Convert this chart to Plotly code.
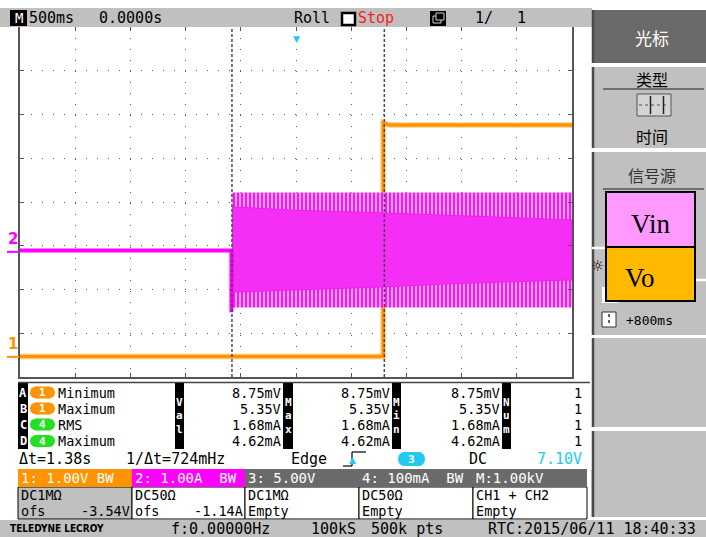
import plotly.graph_objects as go

# ---------------- scope settings ----------------
time_div = 0.5                    # s/div (500 ms)
n_hdiv, n_vdiv = 10, 8
ch1_scale, ch1_ofs = 1.00, -3.54  # V/div, offset V
ch2_scale, ch2_ofs = 1.00, -1.14  # A/div, offset A

# ---------------- waveforms ----------------
# CH1 (Vo): output steps up at the second cursor
ch1_t = [-2.5, 0.79, 0.79, 0.84, 2.5]
ch1_v = [0.00875, 0.00875, 5.35, 5.30, 5.30]

# CH2 (Vin): idle, then switching starts at the first cursor
ch2_idle_t = [-2.5, -0.585, -0.585, -0.58]
ch2_idle_i = [0.03, 0.03, -1.38, 0.03]

# CH2 envelope while switching
env_t = [-0.58, 0.0, 0.8, 1.4, 2.0, 2.5]
outer_hi = [1.36, 1.36, 1.36, 1.36, 1.36, 1.36]
outer_lo = [-1.27, -1.27, -1.27, -1.27, -1.27, -1.27]
inner_hi = [1.03, 0.95, 0.89, 0.84, 0.78, 0.73]
inner_lo = [-0.92, -0.86, -0.80, -0.73, -0.68, -0.64]

cursor_t = [-0.58, 0.80]

# ---------------- readouts ----------------
meas_letters = ["A", "B", "C", "D"]
meas_src = ["1", "1", "4", "4"]
meas_names = ["Minimum", "Maximum", "RMS", "Maximum"]
meas_val = ["8.75mV", "5.35V", "1.68mA", "4.62mA"]
meas_max = ["8.75mV", "5.35V", "1.68mA", "4.62mA"]
meas_min = ["8.75mV", "5.35V", "1.68mA", "4.62mA"]
meas_num = ["1", "1", "1", "1"]

ch_heads = ["1: 1.00V BW", "2: 1.00A  BW", "3: 5.00V", "4: 100mA  BW", "M:1.00kV"]
ch_line2 = ["DC1MΩ", "DC50Ω", "DC1MΩ", "DC50Ω", "CH1 + CH2"]
ch_line3 = ["ofs", "ofs", "Empty", "Empty", "Empty"]
ch_line3r = ["-3.54V", "-1.14A", "", "", ""]

ORANGE = "#ff9400"
MAGENTA = "#ff00ff"
GRAY = "#c0c0c0"
DGRAY = "#6a6a6a"
CYAN = "#22cbee"
GREEN = "#22e022"
MONO = "DejaVu Sans Mono"
CJK = "Noto Sans CJK SC"
SERIF = "Liberation Serif"
ROW_FS = 13.5   # readout rows are packed 16 px apart

# plot area in pixels
L, R, T, B = 20, 572, 27, 377
W, H = R - L, B - T


def fx(x):
    return (x - L) / W


def fy(y):
    return (B - y) / H


shapes, annots = [], []


def rect(x0, y0, x1, y1, fill, line=None, lw=0):
    shapes.append(dict(type="rect", xref="paper", yref="paper",
                       x0=fx(x0), x1=fx(x1), y0=fy(y1), y1=fy(y0),
                       fillcolor=fill, line=dict(color=line or fill, width=lw)))


def circ(x0, y0, x1, y1, fill):
    shapes.append(dict(type="circle", xref="paper", yref="paper",
                       x0=fx(x0), x1=fx(x1), y0=fy(y1), y1=fy(y0),
                       fillcolor=fill, line=dict(color=fill, width=0)))


def seg(x0, y0, x1, y1, color, lw=1, dash="solid"):
    shapes.append(dict(type="line", xref="paper", yref="paper",
                       x0=fx(x0), x1=fx(x1), y0=fy(y0), y1=fy(y1),
                       line=dict(color=color, width=lw, dash=dash)))


def text(x, y, s, size=15, color="black", anchor="left", family=MONO):
    annots.append(dict(xref="paper", yref="paper", x=fx(x), y=fy(y), text=s,
                       showarrow=False, xanchor=anchor, yanchor="middle",
                       borderpad=0, font=dict(family=family, size=size, color=color)))


# ---------------- traces ----------------
fig = go.Figure()
fig.add_trace(go.Scatter(
    x=env_t + env_t[::-1], y=outer_hi + outer_lo[::-1], yaxis="y2",
    mode="lines", fill="toself", line=dict(width=0), fillcolor="#ffa8ff",
    fillpattern=dict(shape="|", size=4, solidity=0.45, fgcolor=MAGENTA,
                     bgcolor="#ffa8ff", fgopacity=1),
    hoverinfo="skip"))
fig.add_trace(go.Scatter(
    x=env_t + env_t[::-1], y=inner_hi + inner_lo[::-1], yaxis="y2",
    mode="lines", fill="toself", line=dict(width=1, color="#f21cf2"),
    fillcolor="#f52ef5", hoverinfo="skip"))
fig.add_trace(go.Scatter(x=ch2_idle_t, y=ch2_idle_i, yaxis="y2", mode="lines",
                         line=dict(color=MAGENTA, width=4), hoverinfo="skip"))
fig.add_trace(go.Scatter(x=ch1_t, y=ch1_v, yaxis="y", mode="lines",
                         line=dict(color=ORANGE, width=6),
                         opacity=0.35, hoverinfo="skip"))
fig.add_trace(go.Scatter(x=ch1_t, y=ch1_v, yaxis="y", mode="lines",
                         line=dict(color=ORANGE, width=3.5), hoverinfo="skip"))

# cursors
for ct in cursor_t:
    shapes.append(dict(type="line", xref="x", yref="paper", x0=ct, x1=ct, y0=0, y1=1,
                       line=dict(color="#4a4a4a", width=1.5, dash="3px,2px")))

# channel ground markers
for ch, yref, col in [("2", "y2", MAGENTA), ("1", "y", ORANGE)]:
    annots.append(dict(xref="paper", yref=yref, x=fx(13), y=0, yanchor="bottom",
                       xanchor="center", yshift=2, showarrow=False, text="<b>%s</b>" % ch,
                       font=dict(family="DejaVu Sans", size=15, color=col)))
    shapes.append(dict(type="line", xref="paper", yref=yref, x0=fx(7), x1=fx(19),
                       y0=0, y1=0, line=dict(color=col, width=2)))

# trigger position marker
annots.append(dict(xref="x", yref="paper", x=0, y=fy(32), text="▼", showarrow=False,
                   font=dict(size=9, color=CYAN, family="DejaVu Sans")))

# ---------------- top status bar ----------------
rect(0, 8, 592, 27, GRAY)
rect(10, 10, 27, 26, "black")
text(18.5, 18, "M", 14, "white", "center")
text(28, 17.5, "500ms")
text(98, 17.5, "0.0000s")
text(293, 17.5, "Roll")
rect(342, 13, 355, 25, "white", "black", 2.5)
text(357, 17.5, "Stop", 15, "#ff1a1a")
rect(430, 11, 446, 26, "black")
rect(433, 16, 441, 23, "black", "#d0d0d0", 1)
rect(436, 13, 444, 20, "black", "#d0d0d0", 1)
text(474, 17.5, "1/")
text(516, 17.5, "1")

# ---------------- right soft-key panel ----------------
def panel(y0, y1, fill=GRAY):
    rect(592, y0, 706, y1, fill)
    seg(593, y0, 593, y1, "#4a4a4a", 2.5)


panel(10, 63, DGRAY)
text(652, 37, "光标", 17, "white", "center", CJK)
panel(67, 148)
text(652, 79, "类型", 16, "black", "center", CJK)
seg(603, 89, 704, 89, "#555555", 1.5)
rect(637, 94, 671, 116, "#d4d4d4", "#555555", 1)
seg(639, 105, 669, 105, "#555555", 1, "dot")
seg(650.5, 96, 650.5, 114, "#222222", 1.5)
seg(663.5, 96, 663.5, 114, "#222222", 1.5)
text(652, 136, "时间", 16, "black", "center", CJK)
panel(152, 335)
text(652, 175, "信号源", 16, "#333333", "center", CJK)
seg(603, 189, 704, 189, "#555555", 1.5)
seg(592, 248, 606, 248, "white", 2.5)
seg(696, 280, 706, 280, "white", 2.5)
text(597, 266, "☼", 15, "black", "center", "DejaVu Sans")
rect(602, 287, 618, 303, "white")
rect(606, 192, 695, 247, "#ff99ff", "black", 2)
rect(606, 247, 695, 301, "#ffba00", "black", 2)
text(650, 224, "Vin", 27, "black", "center", SERIF)
text(640, 278, "Vo", 27, "black", "center", SERIF)
rect(602, 312, 616, 327, "white", "#333333", 1)
seg(609, 314, 609, 325, "#333333", 1.5, "dot")
text(625, 320, "+800ms", 13, "black")
panel(338, 427)
panel(431, 517)
panel(470, 517)

# ---------------- measurement table ----------------
rect(18, 383, 28, 449, "black")
seg(18, 382.5, 590, 382.5, "#444444", 1.5)
row_y = [392.5, 408.5, 424.5, 441]
for i, yy in enumerate(row_y):
    text(23, yy, "<b>%s</b>" % meas_letters[i], 12, "white", "center")
    pill = ORANGE if meas_src[i] == "1" else GREEN
    circ(30, yy - 6, 42, yy + 6, pill)
    circ(43, yy - 6, 55, yy + 6, pill)
    rect(36, yy - 6, 49, yy + 6, pill)
    text(42.5, yy, "<b>%s</b>" % meas_src[i], 11, "white", "center")
    text(57, yy, meas_names[i], ROW_FS)
    text(282, yy, meas_val[i], ROW_FS, "black", "right")
    text(391, yy, meas_max[i], ROW_FS, "black", "right")
    text(501, yy, meas_min[i], ROW_FS, "black", "right")
    text(583, yy, meas_num[i], ROW_FS, "black", "right")

for x0, x1, letters in [(175, 184, "Val"), (283, 293, "Max"), (392, 401, "Min"), (502, 511, "Num")]:
    rect(x0, 383, x1, 449, "black")
    for k, ch in enumerate(letters):
        text((x0 + x1) / 2, 402 + k * 13.5, "<b>%s</b>" % ch, 11, "white", "center")

# delta-t / trigger line
text(18, 459, "Δt=1.38s")
text(125, 459, "1/Δt=724mHz")
text(290, 459, "Edge")
seg(343, 466, 352, 466, "black", 1.2)
seg(352, 466, 352, 452, "black", 1.2)
seg(352, 452, 366, 452, "black", 1.2)
text(352, 460, "▲", 9, CYAN, "center", "DejaVu Sans")
circ(398, 452, 410, 466, CYAN)
circ(413, 452, 425, 466, CYAN)
rect(404, 452, 419, 466, CYAN)
text(411.5, 459, "<b>3</b>", 11, "white", "center")
text(468, 459, "DC")
text(583, 459, "7.10V", 15, CYAN, "right")

# ---------------- channel boxes ----------------
box_x = [18, 132, 245, 359, 473, 587]
head_fill = [ORANGE, MAGENTA, DGRAY, DGRAY, DGRAY]
body_fill = [GRAY, "white", "white", "white", "white"]
for i in range(5):
    x0, x1 = box_x[i], box_x[i + 1]
    rect(x0, 487, x1, 519, body_fill[i], "black", 1)
    rect(x0, 469, x1, 487, head_fill[i])
    text(x0 + 2, 478, ch_heads[i], 14, "white")
    text(x0 + 2, 495, ch_line2[i], ROW_FS)
    text(x0 + 2, 511, ch_line3[i], ROW_FS)
    if ch_line3r[i]:
        text(x1 - 1, 511, ch_line3r[i], ROW_FS, "black", "right")

# ---------------- bottom status bar ----------------
rect(0, 520, 706, 537, GRAY)
text(9, 528.5, "<b>TELEDYNE LECROY</b>", 10, "black", "left", "DejaVu Sans Condensed, DejaVu Sans")
text(170, 528.5, "f:0.00000Hz")
text(310, 528.5, "100kS")
text(370, 528.5, "500k pts")
text(487, 528.5, "RTC:2015/06/11 18:40:33")

# ---------------- axes ----------------
half_t = n_hdiv / 2 * time_div
common = dict(showticklabels=False, zeroline=False, showline=True, linecolor="#555555",
              linewidth=1.5, mirror="ticks", ticks="inside", ticklen=4, tickcolor="#555555",
              fixedrange=True)
fig.update_layout(
    width=706, height=537, autosize=False,
    margin=dict(l=L, r=706 - R, t=T, b=537 - B, pad=0),
    paper_bgcolor="white", plot_bgcolor="white", showlegend=False,
    xaxis=dict(range=[-half_t, half_t], tick0=0, dtick=time_div, showgrid=True,
               gridcolor="#5a5a5a", gridwidth=1, griddash="1px,10px", **common),
    yaxis=dict(range=[-n_vdiv / 2 * ch1_scale - ch1_ofs, n_vdiv / 2 * ch1_scale - ch1_ofs],
               tick0=-ch1_ofs, dtick=ch1_scale, showgrid=True, gridcolor="#5a5a5a",
               gridwidth=1, griddash="1px,10px", **common),
    yaxis2=dict(range=[-n_vdiv / 2 * ch2_scale - ch2_ofs, n_vdiv / 2 * ch2_scale - ch2_ofs],
                overlaying="y", showgrid=False, showticklabels=False, zeroline=False,
                fixedrange=True),
    shapes=shapes, annotations=annots,
)

fig.write_html("out.html")
